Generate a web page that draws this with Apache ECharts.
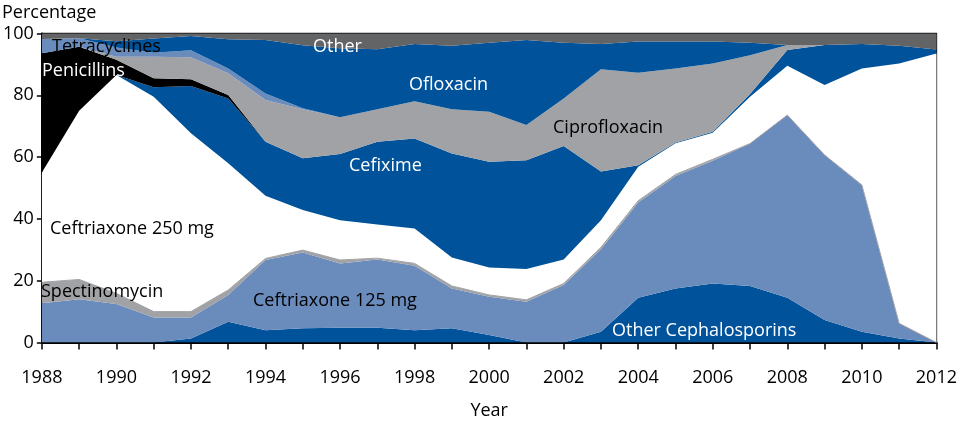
<!DOCTYPE html>
<html>
<head>
<meta charset="utf-8">
<script src="https://cdn.jsdelivr.net/npm/echarts@6/dist/echarts.min.js"></script>
<style>
html,body{margin:0;padding:0;background:#fff;}
#c{width:960px;height:430px;}
</style>
</head>
<body>
<div id="c"></div>
<script>
const years = ['1988','1989','1990','1991','1992','1993','1994','1995','1996','1997','1998','1999','2000','2001','2002','2003','2004','2005','2006','2007','2008','2009','2010','2011','2012'];
const otherCephalosporins = [0,0,0,0,1.3,6.7,4,4.6,4.8,4.8,4,4.6,2.4,0,0,3.5,14.5,17.5,19.1,18.3,14.5,7.3,3.5,1.3,0];
const ceftriaxone125 = [12.7,14,12.5,8.1,6.8,8.7,22.7,24.5,20.8,22.1,20.8,12.9,12.4,13.2,18.6,26.7,30.8,36.4,39.7,46.1,59.1,53.4,47.5,4.9,0];
const spectinomycin = [6.8,6.4,3.4,1.9,1.9,1.6,0.5,0.8,1.1,0.4,0.8,0.8,0.6,0.6,0.5,0.6,0.6,0.5,0.5,0,0,0,0,0,0];
const ceftriaxone250 = [35.5,54.6,70.7,69.5,57.7,41,20.3,13,12.9,10.9,11.3,9.2,8.9,10,7.8,8.8,11,10.1,8.6,15.1,16,22.6,37.7,84.1,93.5];
const cefixime = [0,0,0,3.1,15.3,21,17.5,16.7,21.4,26.8,29.1,33.7,34.2,35.2,36.7,15.7,0.5,0.2,0.3,0.9,5.1,13,7.9,5.7,1.3];
const penicillins = [38.6,20.7,4.9,2.9,2.2,1.1,0,0,0,0,0,0,0,0,0,0,0,0,0,0,0,0,0,0,0];
const ciprofloxacin = [0,0,1,7,7.1,7,13.5,15.9,11.9,10.5,12.1,14.3,16.2,11.4,15.4,33.1,29.9,24,22.1,12.6,1.6,0,0,0,0];
const tetracyclines = [4.6,2.8,3,1.3,2.3,1.6,2.1,0.3,0,0,0,0,0,0,0,0,0,0,0,0,0,0,0,0,0];
const ofloxacin = [0,0,2,4.6,4.6,9.4,17.3,20.4,22.3,19.4,18.5,20.5,22.3,27.5,18,8.2,10.1,8.7,7.1,4,0,0,0,0,0];
const other = [1.8,1.5,2.5,1.6,0.8,1.9,2.1,3.8,4.8,5.1,3.4,4,3,2.1,3,3.4,2.6,2.6,2.6,3,3.7,3.7,3.4,4,5.2];
const yTicks = [0,20,40,60,80,100];

const DARK = '#00539a', LIGHT = '#6a8cbd', GRAY = '#a1a2a5', DGRAY = '#636466';
const FONT = 'Open Sans';

function area(name, data, color, lineColor, lw) {
  return {
    name, type: 'line', stack: 'total', data, symbol: 'none', smooth: false,
    lineStyle: { width: lw || 0, color: lineColor || color },
    areaStyle: { color: color, opacity: 1 },
    itemStyle: { color: color },
    emphasis: { disabled: true }
  };
}

const chart = echarts.init(document.getElementById('c'), null, { renderer: 'canvas' });

function label(text, x, y, color) {
  return { type: 'text', x: x, y: y, z: 100,
    style: { text, fill: color, font: '18px "' + FONT + '"', verticalAlign: 'middle', align: 'left' } };
}

chart.setOption({
  animation: false,
  grid: { left: 41.7, right: 22.3, top: 33.5, bottom: 87.5, show: true, borderColor: '#231f20', borderWidth: 1.5, backgroundColor: 'transparent' },
  xAxis: {
    type: 'category', data: years, boundaryGap: false,
    axisLine: { lineStyle: { color: '#000', width: 2 } },
    axisTick: { show: true, length: 7, interval: 0, lineStyle: { color: '#000', width: 1.5 } },
    axisLabel: { interval: 1, color: '#000', fontFamily: FONT, fontSize: 18, margin: 26 },
    splitLine: { show: false },
    name: 'Year', nameLocation: 'middle', nameGap: 59,
    nameTextStyle: { color: '#000', fontFamily: FONT, fontSize: 18 }
  },
  yAxis: {
    type: 'value', min: 0, max: 100, interval: 20,
    axisLine: { show: true, lineStyle: { color: '#000', width: 2 } },
    axisTick: { show: true, length: 5, lineStyle: { color: '#000', width: 1.5 } },
    axisLabel: { color: '#000', fontFamily: FONT, fontSize: 18, margin: 8,
      formatter: v => yTicks.includes(v) ? String(v) : '' },
    splitLine: { show: false }
  },
  series: [
    area('Other Cephalosporins', otherCephalosporins, DARK),
    area('Ceftriaxone 125 mg', ceftriaxone125, LIGHT),
    area('Spectinomycin', spectinomycin, GRAY, GRAY, 1),
    area('Ceftriaxone 250 mg', ceftriaxone250, '#ffffff'),
    area('Cefixime', cefixime, DARK),
    area('Penicillins', penicillins, '#000000'),
    area('Ciprofloxacin', ciprofloxacin, GRAY),
    area('Tetracyclines', tetracyclines, LIGHT),
    area('Ofloxacin', ofloxacin, DARK),
    area('Other', other, DGRAY)
  ],
  graphic: [
    label('Percentage', 2, 13, '#000'),
    label('Other', 313, 47, '#fff'),
    label('Tetracyclines', 52, 47, '#000'),
    label('Penicillins', 42, 71, '#fff'),
    label('Ofloxacin', 409, 85, '#fff'),
    label('Ciprofloxacin', 553, 128, '#000'),
    label('Cefixime', 349, 166, '#fff'),
    label('Ceftriaxone 250 mg', 50, 229, '#000'),
    label('Spectinomycin', 41, 292, '#000'),
    label('Ceftriaxone 125 mg', 253, 301, '#000'),
    label('Other Cephalosporins', 612, 331, '#fff')
  ]
});
</script>
</body>
</html>
